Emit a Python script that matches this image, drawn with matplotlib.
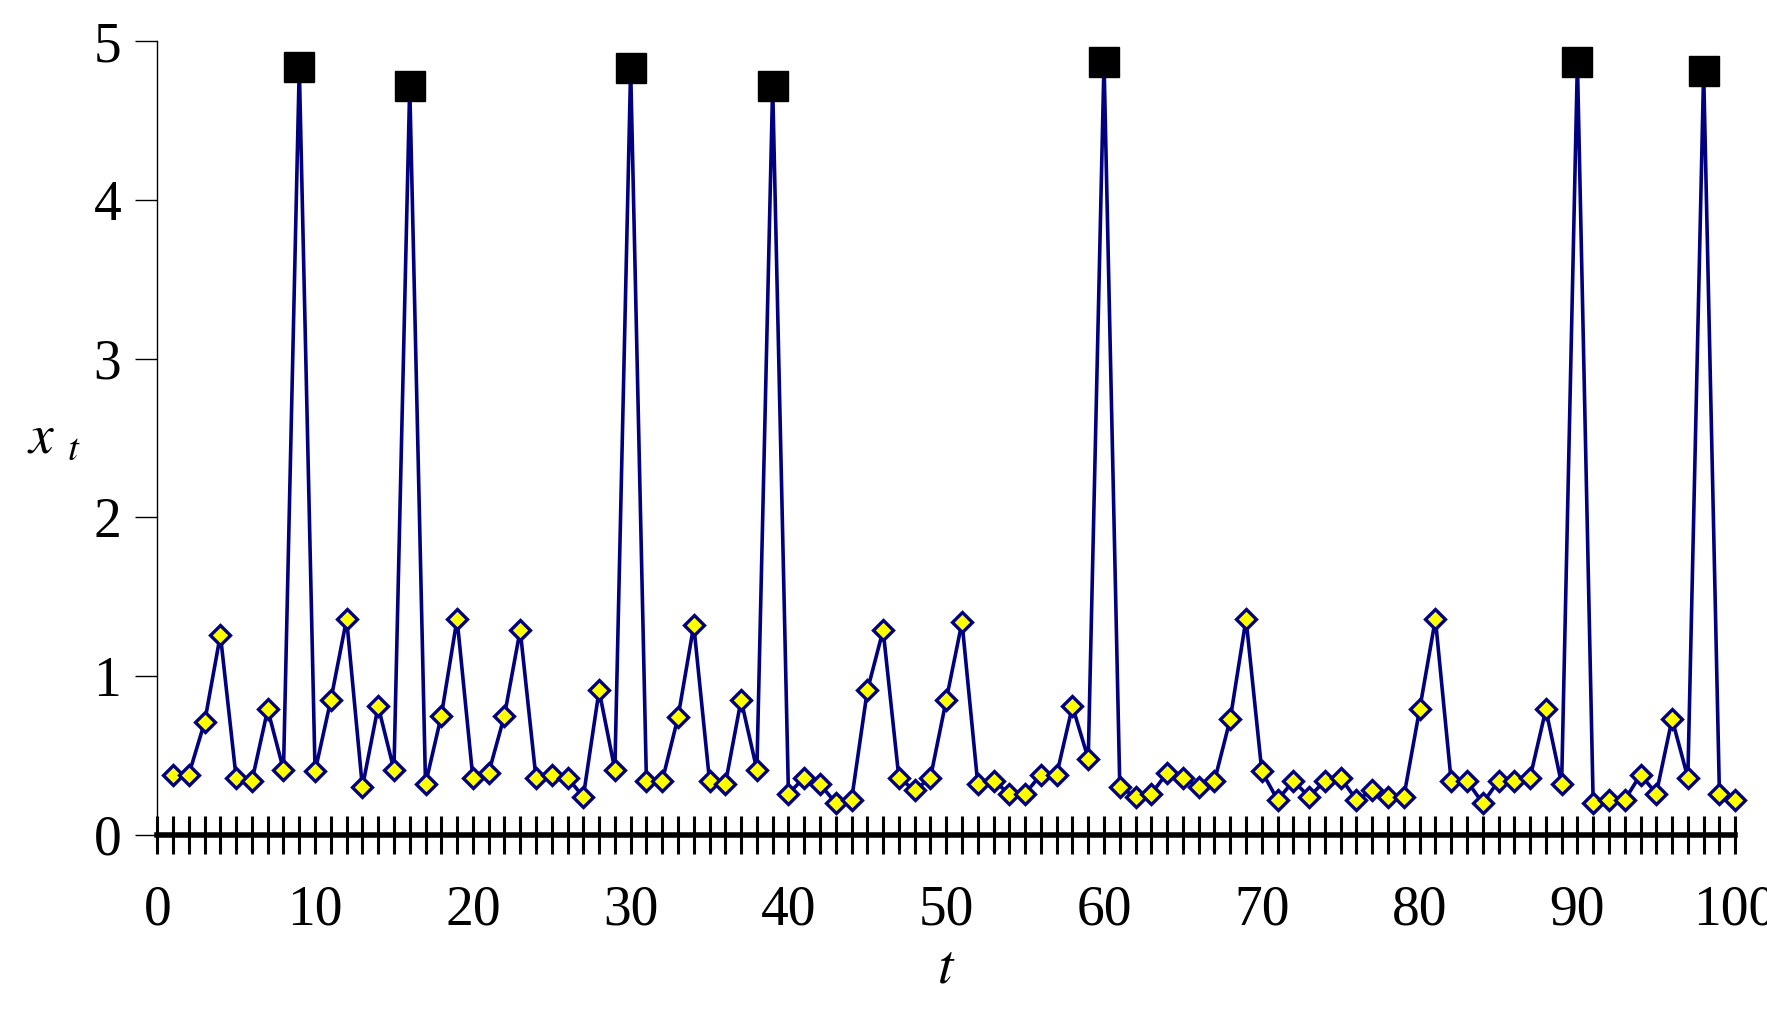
import matplotlib
matplotlib.use('Agg')
import matplotlib.pyplot as plt
import numpy as np

plt.rcParams['font.family'] = 'Liberation Serif'
plt.rcParams['mathtext.fontset'] = 'stix'

t = list(range(1, 101))
x = [0.38, 0.38, 0.71, 1.26, 0.36, 0.34, 0.79, 0.41, 4.84, 0.40,
     0.85, 1.36, 0.30, 0.81, 0.41, 4.72, 0.32, 0.75, 1.36, 0.36,
     0.39, 0.75, 1.29, 0.36, 0.38, 0.36, 0.24, 0.91, 0.41, 4.83,
     0.34, 0.34, 0.74, 1.32, 0.34, 0.32, 0.85, 0.41, 4.72, 0.26,
     0.36, 0.32, 0.20, 0.22, 0.91, 1.29, 0.36, 0.28, 0.36, 0.85,
     1.34, 0.32, 0.34, 0.26, 0.26, 0.38, 0.38, 0.81, 0.48, 4.87,
     0.30, 0.24, 0.26, 0.39, 0.36, 0.30, 0.34, 0.73, 1.36, 0.40,
     0.22, 0.34, 0.24, 0.34, 0.36, 0.22, 0.28, 0.24, 0.24, 0.79,
     1.36, 0.34, 0.34, 0.20, 0.34, 0.34, 0.36, 0.79, 0.32, 4.87,
     0.20, 0.22, 0.22, 0.38, 0.26, 0.73, 0.36, 4.81, 0.26, 0.22]
spike_t = [9, 16, 30, 39, 60, 90, 98]

t = np.array(t)
x = np.array(x)
spike = np.isin(t, spike_t)

fig = plt.figure(figsize=(17.67, 10.32), dpi=100)
ax = fig.add_axes([0.089, 0.191, 0.893, 0.769])

ax.plot(t, x, color='#000080', lw=2.6, zorder=2, clip_on=False)
ax.plot(t[~spike], x[~spike], 'D', ms=10, mfc='#ffff00', mec='#000080', mew=2.4,
        zorder=3, clip_on=False)
ax.plot(t[spike], x[spike], 's', ms=22, color='black', zorder=4, clip_on=False)

ax.set_xlim(0, 100)
ax.set_ylim(0, 5)
ax.set_xticks(range(0, 101, 10))
ax.set_xticks(range(0, 101), minor=True)
ax.set_yticks(range(0, 6))
ax.spines['top'].set_visible(False)
ax.spines['right'].set_visible(False)
ax.spines['bottom'].set_linewidth(4)
ax.spines['left'].set_linewidth(1)
ax.tick_params(axis='x', which='both', direction='inout', length=28, width=2.2,
               labelsize=40, pad=22)
ax.tick_params(axis='y', direction='out', length=16, width=1, labelsize=40, pad=10)
ax.set_xlabel('$t$', fontsize=40, labelpad=4)
ax.set_ylabel('$x\\ _{t}$', fontsize=40, rotation=0, labelpad=28, va='center')

fig.savefig('out.png', dpi=100)
